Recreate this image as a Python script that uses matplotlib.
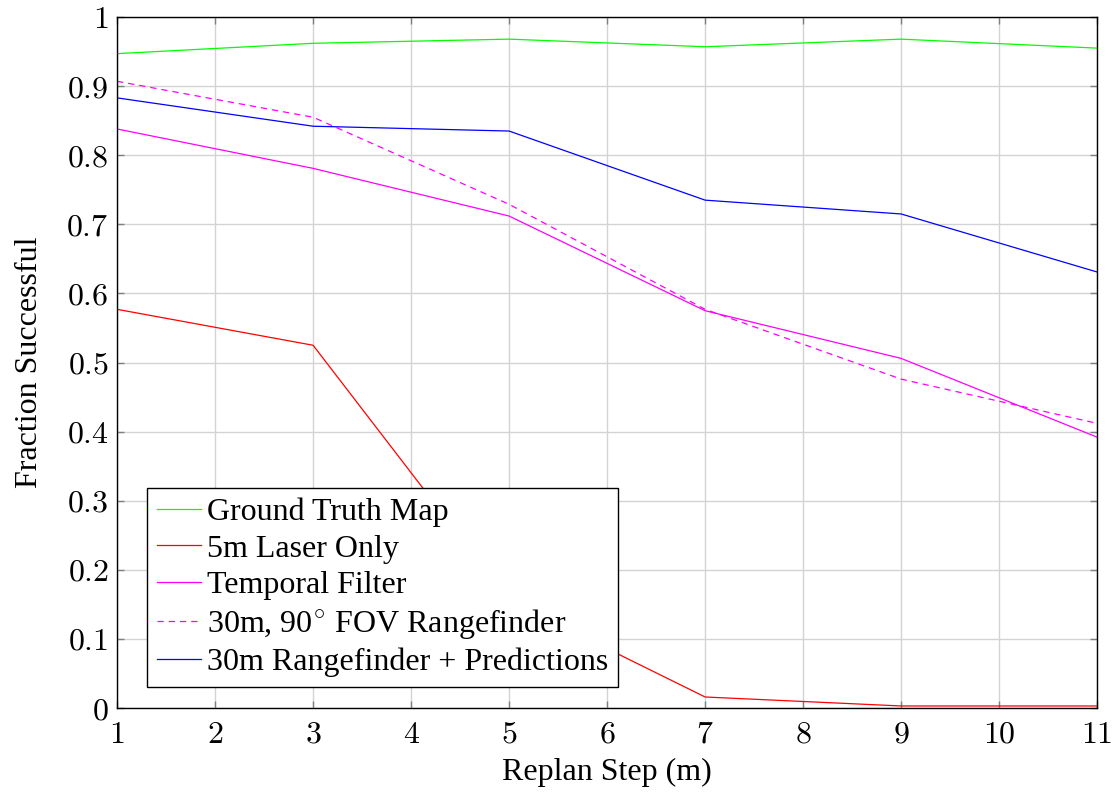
import matplotlib
matplotlib.use("Agg")
import matplotlib.pyplot as plt
from matplotlib.ticker import FuncFormatter

plt.rcParams['font.family'] = ['Liberation Serif', 'DejaVu Serif']
plt.rcParams['mathtext.fontset'] = 'cm'

# data
replan_step = [1, 3, 5, 7, 9, 11]
ground_truth = [0.947, 0.962, 0.968, 0.957, 0.968, 0.955]
laser_only = [0.577, 0.525, 0.156, 0.016, 0.003, 0.003]
temporal_filter = [0.838, 0.781, 0.712, 0.575, 0.506, 0.392]
fov_rangefinder = [0.907, 0.855, 0.729, 0.577, 0.476, 0.412]
rangefinder_pred = [0.883, 0.842, 0.835, 0.735, 0.715, 0.631]

fig = plt.figure(figsize=(11.15, 7.92), dpi=100)
ax = fig.add_axes([0.105, 0.106, 0.879, 0.8725])

ax.plot(replan_step, ground_truth, color='#00ff00', lw=0.9, label='Ground Truth Map')
ax.plot(replan_step, laser_only, color='#ff0000', lw=0.9, label='5m Laser Only')
ax.plot(replan_step, temporal_filter, color='#ff00ff', lw=0.9, label='Temporal Filter')
ax.plot(replan_step, fov_rangefinder, color='#ff00ff', lw=0.9, ls=(0, (5, 4)),
        label='30m, 90$^{\\circ}$ FOV Rangefinder')
ax.plot(replan_step, rangefinder_pred, color='#0000ff', lw=0.9, label='30m Rangefinder + Predictions')

ax.set_xlim(1, 11)
ax.set_ylim(0, 1)
ax.set_xticks(range(1, 12))
ax.set_yticks([i / 10 for i in range(11)])
ax.xaxis.set_major_formatter(FuncFormatter(lambda v, p: '$%d$' % v))
ax.yaxis.set_major_formatter(FuncFormatter(lambda v, p: '$%g$' % round(v, 1)))
ax.tick_params(direction='in', length=5, width=1, color='#808080', labelsize=23,
               top=True, right=True, pad=6)
ax.tick_params(axis='x', pad=9)
ax.grid(True, color='#d3d3d3', lw=1)
ax.set_axisbelow(True)
for s in ax.spines.values():
    s.set_linewidth(1)

ax.set_xlabel('Replan Step (m)', fontsize=23, labelpad=6)
ax.set_ylabel('Fraction Successful', fontsize=23, labelpad=16)

leg = ax.legend(loc='lower left', bbox_to_anchor=(0.0306, 0.0304), fontsize=23,
                fancybox=False, framealpha=1, edgecolor='black', handlelength=1.4,
                handletextpad=0.18, borderpad=0.3, labelspacing=0.22, borderaxespad=0)
leg.get_frame().set_linewidth(1)

fig.savefig('out.png', dpi=100)
